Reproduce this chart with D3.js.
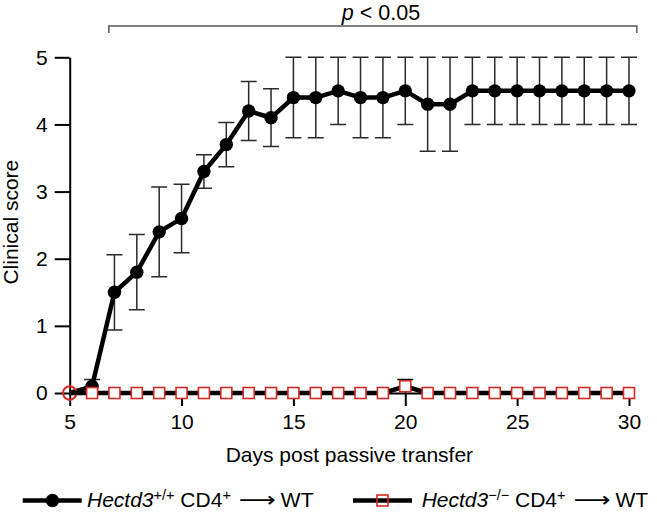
<!DOCTYPE html>
<html><head><meta charset="utf-8">
<script src="https://cdn.jsdelivr.net/npm/d3@7/dist/d3.min.js"></script>
<style>body{margin:0;background:#fff}svg{display:block}</style>
</head><body>
<svg id="chart" width="657" height="512"></svg>
<script>
// ---- data ----
const days   = [5,6,7,8,9,10,11,12,13,14,15,16,17,18,19,20,21,22,23,24,25,26,27,28,29,30];
const wtMean = [0,0.1,1.5,1.8,2.4,2.6,3.3,3.7,4.2,4.1,4.4,4.4,4.5,4.4,4.4,4.5,4.3,4.3,4.5,4.5,4.5,4.5,4.5,4.5,4.5,4.5];
const wtErr  = [0,0.1,0.56,0.56,0.67,0.51,0.25,0.33,0.44,0.43,0.6,0.6,0.5,0.6,0.6,0.5,0.7,0.7,0.5,0.5,0.5,0.5,0.5,0.5,0.5,0.5];
const koMean = [0,0,0,0,0,0,0,0,0,0,0,0,0,0,0,0.1,0,0,0,0,0,0,0,0,0,0];
const koErr  = [0,0,0,0,0,0,0,0,0,0,0,0,0,0,0,0.1,0,0,0,0,0,0,0,0,0,0];
const xTicks = [5,10,15,20,25,30];
const yTicks = [0,1,2,3,4,5];
const xTitle = "Days post passive transfer";
const yTitle = "Clinical score";
const sigP = "p";
const sigText = " < 0.05";
const sigSpan = [6.75, 30.35];
const legendGene = "Hectd3";
const legendGenotypes = ["+/+", "\u2212/\u2212"];
const legendCell = " CD4";
const legendCellSup = "+";
const legendArrow = "\u27F6";
const legendTarget = "WT";

// ---- layout ----
const FONT = "'Liberation Sans', Arial, Helvetica, sans-serif";
const FS = 21;
const svg = d3.select("#chart").style("font-family", FONT);
const x = d3.scaleLinear().domain([5, 30]).range([69.7, 629]);
const y = d3.scaleLinear().domain([0, 5]).range([393, 57.3]);

const wt = days.map((d, i) => ({d, m: wtMean[i], e: wtErr[i]}));
const ko = days.map((d, i) => ({d, m: koMean[i], e: koErr[i]}));

// axes
const yAxis = svg.append("g").attr("transform", `translate(${x(5)},0)`)
  .call(d3.axisLeft(y).tickValues(yTicks).tickSize(15).tickSizeOuter(0).tickPadding(7).tickFormat(d3.format("d")));
const xAxis = svg.append("g").attr("transform", `translate(0,${y(0)})`)
  .call(d3.axisBottom(x).tickValues(xTicks).tickSize(13).tickSizeOuter(0).tickPadding(8).tickFormat(d3.format("d")));
[yAxis, xAxis].forEach(g => {
  g.selectAll("path,line").attr("stroke", "#000").attr("stroke-width", 2);
  g.selectAll("text").attr("font-size", FS).attr("font-family", FONT).attr("fill", "#000");
});

// titles
svg.append("text").attr("x", (x(5) + x(30)) / 2).attr("y", 462)
  .attr("text-anchor", "middle").attr("font-size", FS).text(xTitle);
svg.append("text").attr("transform", `translate(18,${(y(0) + y(5)) / 2 - 3}) rotate(-90)`)
  .attr("text-anchor", "middle").attr("font-size", FS).text(yTitle);

// significance bracket
svg.append("path")
  .attr("d", `M${x(sigSpan[0])},33V26H${x(sigSpan[1])}V33`)
  .attr("fill", "none").attr("stroke", "#555").attr("stroke-width", 1.5);
const st = svg.append("text").attr("x", 381).attr("y", 20).attr("text-anchor", "middle").attr("font-size", 21.5);
st.append("tspan").attr("font-style", "italic").text(sigP);
st.append("tspan").text(sigText);

// error bars
function errorBars(data, color) {
  const g = svg.append("g").attr("stroke", color).attr("stroke-width", 1.5).attr("fill", "none");
  data.filter(p => p.e > 0).forEach(p => {
    const cx = x(p.d), t = y(p.m + p.e), b = y(Math.max(0, p.m - p.e));
    g.append("path").attr("d", `M${cx},${t}V${b}M${cx - 8},${t}H${cx + 8}` + (p.m - p.e > 0 ? `M${cx - 8},${b}H${cx + 8}` : ""));
  });
}
const line = d3.line().x(p => x(p.d)).y(p => y(p.m));

// WT series
errorBars(wt, "#2a2a2a");
svg.append("path").datum(wt).attr("d", line).attr("fill", "none")
  .attr("stroke", "#000").attr("stroke-width", 4.5).attr("stroke-linejoin", "round");
svg.append("g").selectAll("circle").data(wt.filter(p => p.d > 5)).join("circle")
  .attr("cx", p => x(p.d)).attr("cy", p => y(p.m)).attr("r", 6.7).attr("fill", "#000");
svg.append("g").selectAll("circle").data(wt.filter(p => p.d === 5)).join("circle")
  .attr("cx", p => x(p.d)).attr("cy", p => y(p.m)).attr("r", 6.7)
  .attr("fill", "none").attr("stroke", "#d42a24").attr("stroke-width", 2);

// KO series
svg.append("path").datum(ko).attr("d", line).attr("fill", "none")
  .attr("stroke", "#000").attr("stroke-width", 4.5).attr("stroke-linejoin", "round");
errorBars(ko, "#000");
svg.append("g").selectAll("rect").data(ko.filter(p => p.d > 5)).join("rect")
  .attr("x", p => x(p.d) - 5.5).attr("y", p => y(p.m) - 5.5).attr("width", 11).attr("height", 11)
  .attr("fill", "#fff").attr("stroke", "#d42a24").attr("stroke-width", 1.6);

// legend
const LY = 507, LM = 500.5;
function legendLabel(x0, genotype) {
  const t = svg.append("text").attr("x", x0).attr("y", LY).attr("font-size", FS);
  t.append("tspan").attr("font-style", "italic").text(legendGene);
  t.append("tspan").attr("font-size", 14.5).attr("dy", -7.5).text(genotype);
  t.append("tspan").attr("font-size", FS).attr("dy", 7.5).text(legendCell);
  t.append("tspan").attr("font-size", 14.5).attr("dy", -7.5).text(legendCellSup);
  const end = x0 + t.node().getComputedTextLength();
  svg.append("text").attr("x", end + 8).attr("y", LY).attr("font-size", FS)
    .attr("font-family", "'DejaVu Sans', sans-serif")
    .attr("textLength", 37).attr("lengthAdjust", "spacingAndGlyphs").text(legendArrow);
  svg.append("text").attr("x", end + 50).attr("y", LY).attr("font-size", FS).text(legendTarget);
}
// item 1
svg.append("line").attr("x1", 22.7).attr("x2", 81.7).attr("y1", LM).attr("y2", LM)
  .attr("stroke", "#000").attr("stroke-width", 4.5);
svg.append("circle").attr("cx", 52.5).attr("cy", LM).attr("r", 6.7).attr("fill", "#000");
legendLabel(87, legendGenotypes[0]);
// item 2
svg.append("line").attr("x1", 353).attr("x2", 412).attr("y1", LM).attr("y2", LM)
  .attr("stroke", "#000").attr("stroke-width", 4.5);
svg.append("rect").attr("x", 382.5 - 5.5).attr("y", LM - 5.5).attr("width", 11).attr("height", 11)
  .attr("fill", "none").attr("stroke", "#d42a24").attr("stroke-width", 1.6);
legendLabel(421.7, legendGenotypes[1]);
</script>
</body></html>
